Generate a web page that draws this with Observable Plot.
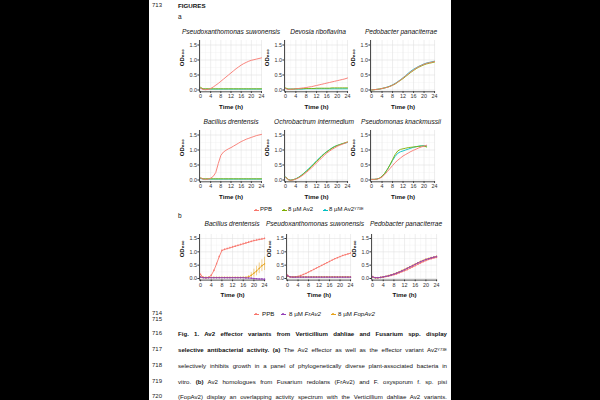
<!DOCTYPE html>
<html><head><meta charset="utf-8">
<script src="https://cdn.jsdelivr.net/npm/d3@7"></script>
<script src="https://cdn.jsdelivr.net/npm/@observablehq/plot@0.6"></script>
<style>
html,body{margin:0;padding:0;width:600px;height:400px;overflow:hidden;background:#000;}
#page{position:absolute;left:149px;top:0;width:302px;height:400px;background:#fff;}
.t{position:absolute;white-space:nowrap;font-family:"Liberation Sans",Arial,sans-serif;color:#111;}
.panel{position:absolute;}
.panel svg{overflow:visible;}
sup{font-size:65%;vertical-align:0;position:relative;top:-0.45em;}
</style></head><body><div id="page"></div>
<script>
// ---------- data ----------
const hours  = [0,1,2,3,4,5,6,7,8,9,10,11,12,13,14,15,16,17,18,19,20,21,22,23,24];
const hoursK = [0,1,2,3,4,5,6,7,8,9,10,11,12,13,14,15,16,17,18,19,20,21];
const xTicks = [0,4,8,12,16,20,24];
const yTicks = [0,0.5,1,1.5];
const yTickLabels = ["0.0","0.5","1.0","1.5"];
const seriesA = ["PPB","8 µM Av2","8 µM Av2Y73E"];
const seriesB = ["PPB","8 µM FrAv2","8 µM FopAv2"];
const colorsA = ["#F8766D","#7CAE00","#00BFC4"];
const colorsB = ["#F8766D","#9440B8","#E8A31A"];
const titlesA = ["Pseudoxanthomonas suwonensis","Devosia riboflavina","Pedobacter panaciterrae","Bacillus drentensis","Ochrobactrum intermedium","Pseudomonas knackmussii"];
const titlesB = ["Bacillus drentensis","Pseudoxanthomonas suwonensis","Pedobacter panaciterrae"];

// (a) Pseudoxanthomonas suwonensis
const psuwPPB  = [0.06,0.02,0.01,0.02,0.05,0.10,0.16,0.22,0.29,0.36,0.43,0.50,0.57,0.64,0.71,0.77,0.83,0.88,0.92,0.96,0.99,1.01,1.03,1.05,1.07];
const psuwAv2  = [0.09,0.04,0.04,0.04,0.04,0.04,0.04,0.04,0.04,0.04,0.04,0.04,0.04,0.04,0.04,0.04,0.04,0.04,0.04,0.04,0.04,0.04,0.04,0.04,0.04];
const psuwY73E = [0.06,0.03,0.03,0.03,0.03,0.03,0.03,0.03,0.03,0.03,0.03,0.03,0.03,0.03,0.03,0.03,0.03,0.03,0.03,0.03,0.03,0.03,0.03,0.03,0.03];
// (a) Devosia riboflavina
const devoPPB  = [0.05,0.02,0.02,0.03,0.04,0.05,0.06,0.07,0.08,0.10,0.11,0.13,0.15,0.17,0.19,0.21,0.23,0.25,0.27,0.29,0.31,0.33,0.35,0.37,0.40];
const devoAv2  = [0.07,0.03,0.03,0.03,0.04,0.04,0.04,0.05,0.05,0.05,0.05,0.05,0.06,0.06,0.06,0.06,0.06,0.06,0.07,0.07,0.07,0.07,0.07,0.07,0.07];
const devoY73E = [0.05,0.03,0.03,0.03,0.03,0.03,0.03,0.03,0.04,0.04,0.04,0.04,0.04,0.04,0.04,0.04,0.04,0.04,0.04,0.04,0.04,0.04,0.04,0.04,0.04];
// (a) Pedobacter panaciterrae
const pedoPPB  = [0.00,0.01,0.02,0.03,0.05,0.07,0.09,0.12,0.16,0.21,0.27,0.33,0.40,0.47,0.54,0.61,0.67,0.73,0.78,0.82,0.86,0.89,0.91,0.93,0.95];
const pedoAv2  = [0.00,0.01,0.02,0.03,0.05,0.07,0.09,0.12,0.16,0.20,0.26,0.32,0.38,0.45,0.52,0.59,0.65,0.71,0.76,0.80,0.84,0.87,0.89,0.91,0.93];
const pedoY73E = [0.00,0.01,0.02,0.03,0.05,0.07,0.10,0.13,0.17,0.22,0.28,0.34,0.41,0.48,0.56,0.63,0.69,0.74,0.79,0.83,0.87,0.90,0.92,0.94,0.96];
// (a) Bacillus drentensis
const bacPPB   = [0.07,0.03,0.02,0.03,0.06,0.12,0.25,0.55,0.82,0.93,0.99,1.04,1.08,1.13,1.18,1.23,1.28,1.32,1.36,1.39,1.42,1.45,1.48,1.50,1.52];
const bacAv2   = [0.07,0.04,0.04,0.04,0.04,0.04,0.04,0.04,0.04,0.04,0.04,0.04,0.04,0.04,0.04,0.04,0.04,0.04,0.04,0.04,0.04,0.04,0.04,0.04,0.04];
const bacY73E  = [0.05,0.03,0.03,0.03,0.03,0.03,0.03,0.03,0.03,0.03,0.03,0.03,0.03,0.03,0.03,0.03,0.03,0.03,0.03,0.03,0.03,0.03,0.03,0.03,0.03];
// (a) Ochrobactrum intermedium
const ochrPPB  = [0.10,0.01,-0.01,0.00,0.03,0.07,0.12,0.18,0.25,0.32,0.40,0.48,0.57,0.65,0.74,0.82,0.90,0.96,1.02,1.07,1.12,1.16,1.19,1.23,1.26];
const ochrAv2  = [0.10,0.01,-0.01,0.01,0.04,0.08,0.14,0.21,0.28,0.36,0.44,0.53,0.62,0.70,0.79,0.87,0.94,1.00,1.06,1.11,1.15,1.18,1.21,1.24,1.27];
const ochrY73E = [0.11,0.02,0.00,0.01,0.04,0.09,0.15,0.22,0.30,0.38,0.46,0.55,0.64,0.72,0.81,0.88,0.95,1.01,1.07,1.12,1.15,1.18,1.21,1.23,1.25];
// (a) Pseudomonas knackmussii (to 21 h)
const knacPPB  = [0.02,0.02,0.03,0.05,0.10,0.18,0.28,0.38,0.48,0.58,0.66,0.73,0.80,0.85,0.90,0.95,0.99,1.03,1.07,1.10,1.13,1.16];
const knacAv2  = [0.02,0.02,0.03,0.06,0.12,0.22,0.35,0.50,0.68,0.85,0.97,1.02,1.04,1.06,1.08,1.09,1.10,1.11,1.12,1.13,1.13,1.10];
const knacY73E = [0.02,0.02,0.03,0.06,0.12,0.22,0.35,0.50,0.65,0.79,0.89,0.94,0.97,1.00,1.03,1.06,1.09,1.11,1.13,1.14,1.14,1.13];

// (b) Bacillus drentensis
const bBacPPB  = [0.15,0.04,0.02,0.04,0.12,0.30,0.55,0.82,1.05,1.09,1.12,1.15,1.18,1.21,1.24,1.27,1.30,1.33,1.36,1.39,1.42,1.44,1.46,1.48,1.50];
const bBacFr   = [0.05,0.03,0.03,0.03,0.03,0.03,0.03,0.03,0.03,0.03,0.03,0.03,0.03,0.03,0.03,0.03,0.03,0.02,0.02,0.01,0.00,-0.01,-0.02,-0.02,-0.03];
const bBacFop  = [0.06,0.04,0.04,0.04,0.04,0.04,0.04,0.04,0.04,0.04,0.04,0.04,0.04,0.04,0.04,0.04,0.04,0.04,0.06,0.12,0.20,0.28,0.38,0.48,0.55];
const bBacPPBsd = [0.04,0.02,0.02,0.02,0.02,0.03,0.03,0.03,0.03,0.03,0.03,0.03,0.03,0.03,0.03,0.03,0.03,0.03,0.03,0.03,0.03,0.03,0.03,0.03,0.03];
const bBacFrSd  = [0.02,0.01,0.01,0.01,0.01,0.01,0.01,0.01,0.01,0.01,0.01,0.01,0.01,0.01,0.01,0.01,0.01,0.01,0.01,0.01,0.01,0.01,0.01,0.02,0.02];
const bBacFopSd = [0.02,0.01,0.01,0.01,0.01,0.01,0.01,0.01,0.01,0.01,0.01,0.01,0.01,0.01,0.01,0.01,0.02,0.03,0.05,0.10,0.15,0.18,0.20,0.22,0.25];
// (b) Pseudoxanthomonas suwonensis
const bPsuwPPB = [0.12,0.06,0.05,0.06,0.08,0.11,0.15,0.19,0.24,0.29,0.34,0.39,0.44,0.49,0.54,0.59,0.64,0.69,0.74,0.78,0.82,0.86,0.89,0.92,0.95];
const bPsuwFr  = [0.10,0.06,0.05,0.05,0.05,0.05,0.05,0.05,0.05,0.05,0.05,0.05,0.05,0.05,0.05,0.05,0.05,0.05,0.05,0.05,0.05,0.05,0.05,0.05,0.05];
const bPsuwFop = [0.08,0.06,0.06,0.06,0.06,0.06,0.06,0.06,0.06,0.06,0.06,0.06,0.06,0.06,0.06,0.06,0.06,0.06,0.06,0.06,0.06,0.06,0.06,0.06,0.06];
const bPsuwSd  = [0.02,0.01,0.01,0.01,0.01,0.01,0.01,0.01,0.01,0.01,0.01,0.01,0.01,0.01,0.01,0.01,0.01,0.01,0.01,0.01,0.01,0.01,0.01,0.01,0.01];
// (b) Pedobacter panaciterrae
const bPedoPPB = [0.06,0.03,0.03,0.04,0.05,0.07,0.09,0.11,0.14,0.17,0.21,0.25,0.29,0.33,0.38,0.43,0.48,0.53,0.58,0.63,0.67,0.71,0.74,0.77,0.79];
const bPedoFr  = [0.06,0.03,0.03,0.04,0.06,0.08,0.10,0.13,0.16,0.20,0.24,0.28,0.33,0.38,0.43,0.48,0.53,0.58,0.63,0.67,0.71,0.74,0.77,0.80,0.82];
const bPedoFop = [0.06,0.03,0.03,0.04,0.06,0.08,0.11,0.14,0.17,0.21,0.25,0.30,0.34,0.39,0.44,0.49,0.54,0.59,0.64,0.68,0.72,0.75,0.78,0.80,0.83];
const bPedoSd  = [0.02,0.01,0.01,0.01,0.01,0.01,0.01,0.01,0.01,0.01,0.01,0.01,0.01,0.01,0.01,0.01,0.01,0.01,0.01,0.01,0.01,0.01,0.02,0.02,0.02];

// ---------- helpers ----------
const FONT = '"Liberation Sans",Arial,sans-serif';
function txt(html, x, y, size, o = {}) {
  const d = document.createElement("div");
  d.className = "t";
  d.innerHTML = html;
  d.style.left = x + "px";
  d.style.top = (y - size * 0.6) + "px";
  d.style.fontSize = size + "px";
  d.style.lineHeight = (size * 1.2) + "px";
  if (o.center) d.style.transform = "translateX(-50%)";
  if (o.bold) d.style.fontWeight = "bold";
  if (o.italic) d.style.fontStyle = "italic";
  if (o.color) d.style.color = o.color;
  document.body.appendChild(d);
  return d;
}
function justify(el, width) {
  const w = el.getBoundingClientRect().width;
  const s = (el.textContent.match(/ /g) || []).length;
  if (w < width && s) el.style.wordSpacing = ((width - w) / s) + "px";
  else if (w > width) el.style.letterSpacing = ((width - w) / el.textContent.length) + "px";
}
function rows(t, v, sd) { return t.map((h, i) => ({t: h, v: v[i], e: sd ? sd[i] : 0})); }
const yLabel = d => yTickLabels[yTicks.indexOf(d)];

function panel(series, geo, withErr) {
  const ML = 30, MR = 6, MT = 4, MB = 24;
  const k = (geo.x24 - geo.x0) / 24, ky = (geo.y0 - geo.y15) / 1.5;
  const fw = 24.8 * k, fh = 1.71 * ky;
  const fl = geo.x0 - 0.4 * k, ft = geo.y15 - 0.15 * ky;
  const marks = [
    Plot.gridX([2,6,10,14,18,22], {stroke: "#efefef", strokeOpacity: 1, strokeWidth: 0.4}),
    Plot.gridY([0.25,0.75,1.25], {stroke: "#efefef", strokeOpacity: 1, strokeWidth: 0.4}),
    Plot.gridX(xTicks, {stroke: "#e2e2e2", strokeOpacity: 1, strokeWidth: 0.6}),
    Plot.gridY(yTicks, {stroke: "#e2e2e2", strokeOpacity: 1, strokeWidth: 0.6}),
    Plot.ruleX([-0.4], {stroke: "#000", strokeWidth: 0.7}),
    Plot.ruleY([-0.06], {stroke: "#000", strokeWidth: 0.7}),
    Plot.tickX(xTicks, {x: d => d, frameAnchor: "bottom", y: null, stroke: "#333", strokeWidth: 0.6}),
    Plot.axisX(xTicks, {tickSize: 1.6, tickPadding: 1, fontSize: 5.4, label: null, color: "#333"}),
    Plot.axisY(yTicks, {tickSize: 1.6, tickPadding: 1, fontSize: 5.4, label: null, color: "#333", tickFormat: yLabel}),
    Plot.text(["Time (h)"], {text: d => d, frameAnchor: "bottom", dy: 17, fontSize: 6.2, fontWeight: 600, fill: "#111"}),
    Plot.text(["OD₆₀₀"], {text: d => d, frameAnchor: "left", dx: -17, rotate: -90, fontSize: 6, fontWeight: 600, fill: "#111"})
  ];
  marks.splice(6, 1); // keep axis ticks from axisX only
  for (const s of series) {
    const data = rows(s.t, s.v, s.e);
    if (withErr) {
      marks.push(Plot.ruleX(data, {x: "t", y1: d => d.v - d.e, y2: d => d.v + d.e, stroke: s.color, strokeWidth: 0.5}));
    }
    marks.push(Plot.line(data, {x: "t", y: "v", stroke: s.color, strokeWidth: 0.9}));
    if (withErr) marks.push(Plot.dot(data, {x: "t", y: "v", r: 0.7, fill: s.color}));
  }
  const p = Plot.plot({
    width: fw + ML + MR, height: fh + MT + MB,
    marginLeft: ML, marginRight: MR, marginTop: MT, marginBottom: MB,
    style: {fontFamily: FONT, background: "transparent", overflow: "visible"},
    x: {domain: [-0.4, 24.4]},
    y: {domain: [-0.06, 1.65]},
    marks
  });
  const d = document.createElement("div");
  d.className = "panel";
  d.style.left = (fl - ML) + "px";
  d.style.top = (ft - MT) + "px";
  d.appendChild(p);
  document.body.appendChild(d);
}

// ---------- panels ----------
const A = (v0, v1, v2, t = hours) => [
  {t, v: v2, color: colorsA[2]},
  {t, v: v1, color: colorsA[1]},
  {t, v: v0, color: colorsA[0]}
];
const B = (v0, v1, v2, e0, e1, e2) => [
  {t: hours, v: v0, e: e0, color: colorsB[0]},
  {t: hours, v: v2, e: e2, color: colorsB[2]},
  {t: hours, v: v1, e: e1, color: colorsB[1]}
];
panel(A(psuwPPB, psuwAv2, psuwY73E), {x0: 200, x24: 261, y0: 89, y15: 44});
panel(A(devoPPB, devoAv2, devoY73E), {x0: 285, x24: 347, y0: 89, y15: 44});
panel(A(pedoPPB, pedoAv2, pedoY73E), {x0: 371, x24: 434, y0: 89, y15: 44});
panel(A(bacPPB, bacAv2, bacY73E), {x0: 200, x24: 261, y0: 179, y15: 134});
panel(A(ochrPPB, ochrAv2, ochrY73E), {x0: 285, x24: 347, y0: 179, y15: 134});
panel(A(knacPPB, knacAv2, knacY73E, hoursK), {x0: 371, x24: 434, y0: 179, y15: 134});
panel(B(bBacPPB, bBacFr, bBacFop, bBacPPBsd, bBacFrSd, bBacFopSd), {x0: 200, x24: 264, y0: 278, y15: 238}, true);
panel(B(bPsuwPPB, bPsuwFr, bPsuwFop, bPsuwSd, bPsuwSd, bPsuwSd), {x0: 287, x24: 350, y0: 278, y15: 238}, true);
panel(B(bPedoPPB, bPedoFr, bPedoFop, bPedoSd, bPedoSd, bPedoSd), {x0: 372, x24: 436, y0: 278, y15: 238}, true);

// ---------- titles ----------
[[231, 32], [318, 32], [401, 32], [231, 122], [314, 122], [401, 122]].forEach(([x, y], i) =>
  txt(titlesA[i], x, y, 6.6, {italic: true, center: true}));
[[232, 224], [315, 224], [406, 224]].forEach(([x, y], i) =>
  txt(titlesB[i], x, y, 6.6, {italic: true, center: true}));

txt("713", 152, 6, 6, {color: "#222"});
txt("FIGURES", 178, 6, 6.2, {bold: true});
txt("a", 178, 17, 6.5);
txt("b", 178, 216, 6.5);

// ---------- legends ----------
function key(x, y, color) {
  const d = document.createElement("div");
  d.style.cssText = `position:absolute;left:${x - 2.5}px;top:${y - 0.35}px;width:5px;height:0.7px;background:${color}`;
  document.body.appendChild(d);
  const c = document.createElement("div");
  c.style.cssText = `position:absolute;left:${x - 1.1}px;top:${y - 1.1}px;width:2.2px;height:2.2px;border-radius:50%;background:${color}`;
  document.body.appendChild(c);
}
const legA = ["PPB", "8 µM Av2", "8 µM Av2<sup>Y73E</sup>"];
[[256, 260], [284, 288], [325, 329]].forEach(([kx, tx], i) => { key(kx, 210, colorsA[i]); txt(legA[i], tx, 210, 6); });
const legB = ["PPB", "8 µM <i>FrAv2</i>", "8 µM <i>FopAv2</i>"];
[[256, 262], [283, 289], [333, 338]].forEach(([kx, tx], i) => { key(kx, 314, colorsB[i]); txt(legB[i], tx, 314, 6.2); });

txt("714", 152, 314, 6, {color: "#222"});
txt("715", 152, 320, 6, {color: "#222"});

// ---------- caption ----------
const capLines = [
  "<b>Fig. 1. Av2 effector variants from Verticillium dahliae and Fusarium spp. display</b>",
  "<b>selective antibacterial activity. (a)</b> The Av2 effector as well as the effector variant Av2<sup>Y73E</sup>",
  "selectively inhibits growth in a panel of phylogenetically diverse plant-associated bacteria in",
  "vitro. <b>(b)</b> Av2 homologues from Fusarium redolans (FrAv2) and F. oxysporum f. sp. pisi",
  "(FopAv2) display an overlapping activity spectrum with the Verticillium dahliae Av2 variants."
];
const capY = [334, 350, 366, 382, 397];
capLines.forEach((h, i) => {
  txt(String(716 + i), 152, capY[i], 6, {color: "#222"});
  const el = txt(h, 178, capY[i], 6.1);
  justify(el, 269);
});
</script></body></html>
